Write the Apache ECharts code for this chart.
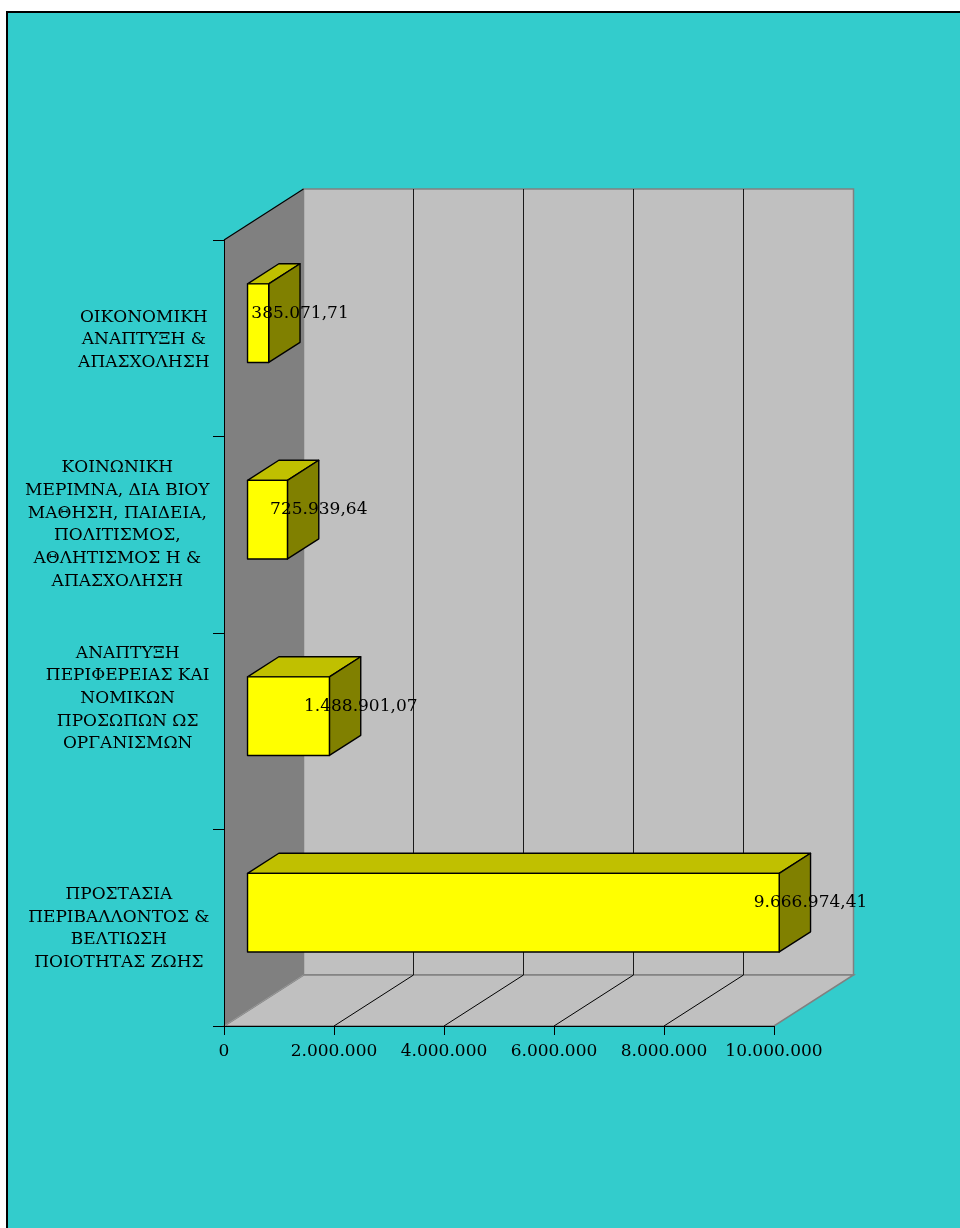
<!DOCTYPE html>
<html><head><meta charset="utf-8">
<script src="https://cdn.jsdelivr.net/npm/echarts@6/dist/echarts.min.js"></script>
<style>html,body{margin:0;padding:0;background:#fff}#c{width:960px;height:1228px}</style>
</head><body><div id="c"></div>
<script>
// ---- data ----
const categories = [
  'ΟΙΚΟΝΟΜΙΚΗ\nΑΝΑΠΤΥΞΗ &\nΑΠΑΣΧΟΛΗΣΗ',
  'ΚΟΙΝΩΝΙΚΗ\nΜΕΡΙΜΝΑ, ΔΙΑ ΒΙΟΥ\nΜΑΘΗΣΗ, ΠΑΙΔΕΙΑ,\nΠΟΛΙΤΙΣΜΟΣ,\nΑΘΛΗΤΙΣΜΟΣ Η &\nΑΠΑΣΧΟΛΗΣΗ',
  'ΑΝΑΠΤΥΞΗ\nΠΕΡΙΦΕΡΕΙΑΣ ΚΑΙ\nΝΟΜΙΚΩΝ\nΠΡΟΣΩΠΩΝ ΩΣ\nΟΡΓΑΝΙΣΜΩΝ',
  'ΠΡΟΣΤΑΣΙΑ\nΠΕΡΙΒΑΛΛΟΝΤΟΣ &\nΒΕΛΤΙΩΣΗ\nΠΟΙΟΤΗΤΑΣ ΖΩΗΣ'
];
const values = [385071.71, 725939.64, 1488901.07, 9666974.41];
const valueLabels = ['385.071,71', '725.939,64', '1.488.901,07', '9.666.974,41'];
const xTicks = [0, 2000000, 4000000, 6000000, 8000000, 10000000];
const xTickLabels = ['0', '2.000.000', '4.000.000', '6.000.000', '8.000.000', '10.000.000'];

// ---- style ----
const FONT = 'DejaVu Serif';
const DEPTH = [79.5, -51];
const TF = 0.296, TB = 0.69;
const labelShift = [1.7, -10.3, -32.6, 0.8];

function renderFrame(params, api) {
  const cs = params.coordSys;
  const x0 = cs.x, y0 = cs.y, w = cs.width, h = cs.height;
  const dx = DEPTH[0], dy = DEPTH[1];
  const ch = [];
  ch.push({type: 'polygon', shape: {points: [[x0, y0], [x0 + dx, y0 + dy], [x0 + dx, y0 + h + dy], [x0, y0 + h]]},
    style: {fill: '#808080', stroke: null}});
  ch.push({type: 'rect', shape: {x: x0 + dx, y: y0 + dy, width: w, height: h},
    style: {fill: '#C0C0C0', stroke: '#808080', lineWidth: 1.5}});
  ch.push({type: 'polygon', shape: {points: [[x0, y0 + h], [x0 + w, y0 + h], [x0 + w + dx, y0 + h + dy], [x0 + dx, y0 + h + dy]]},
    style: {fill: '#C0C0C0', stroke: '#808080', lineWidth: 1.5}});
  xTicks.forEach((t, i) => {
    const p = api.coord([t, 0]);
    if (i > 0 && i < xTicks.length - 1) {
      ch.push({type: 'line', shape: {x1: p[0] + dx, y1: y0 + dy, x2: p[0] + dx, y2: y0 + h + dy},
        style: {stroke: '#1a1a1a', lineWidth: 1}});
      ch.push({type: 'line', shape: {x1: p[0], y1: y0 + h, x2: p[0] + dx, y2: y0 + h + dy},
        style: {stroke: '#000', lineWidth: 1}});
    }
  });
  ch.push({type: 'line', shape: {x1: x0, y1: y0 + h, x2: x0 + dx, y2: y0 + h + dy}, style: {stroke: '#999', lineWidth: 1}});
  ch.push({type: 'line', shape: {x1: x0, y1: y0, x2: x0 + dx, y2: y0 + dy}, style: {stroke: '#000', lineWidth: 1.2}});
  return {type: 'group', children: ch};
}

function renderBar(params, api) {
  const val = api.value(0), cat = api.value(1);
  const p0 = api.coord([0, cat]);
  const p1 = api.coord([val, cat]);
  const bh = api.size([0, 1])[1] * 0.4;
  const dx = DEPTH[0], dy = DEPTH[1];
  const fx0 = p0[0] + TF * dx, fx1 = p1[0] + TF * dx;
  const fy = p0[1] + TF * dy;
  const top = fy - bh / 2, bot = fy + bh / 2;
  const bx = (TB - TF) * dx, by = (TB - TF) * dy;
  const border = {stroke: '#000', lineWidth: 1.4, lineJoin: 'round'};
  return {type: 'group', children: [
    {type: 'polygon', shape: {points: [[fx0, top], [fx1, top], [fx1 + bx, top + by], [fx0 + bx, top + by]]},
      style: Object.assign({fill: '#C0C000'}, border)},
    {type: 'polygon', shape: {points: [[fx1, top], [fx1 + bx, top + by], [fx1 + bx, bot + by], [fx1, bot]]},
      style: Object.assign({fill: '#808000'}, border)},
    {type: 'rect', shape: {x: fx0, y: top, width: fx1 - fx0, height: bh},
      style: Object.assign({fill: '#FFFF00'}, border)},
    {type: 'text', x: fx1 + bx, y: fy + by / 2, z2: 10,
      style: {text: valueLabels[params.dataIndex], fill: '#000', font: '17px "' + FONT + '"',
        align: 'center', verticalAlign: 'middle'}}
  ]};
}

const chart = echarts.init(document.getElementById('c'), null, {renderer: 'canvas'});
chart.setOption({
  backgroundColor: '#ffffff',
  animation: false,
  graphic: [{type: 'rect', z: -10, shape: {x: 7, y: 12, width: 1000, height: 1300},
    style: {fill: '#33CCCC', stroke: '#000', lineWidth: 2}}],
  grid: {left: 224, right: 186, top: 240, bottom: 202, containLabel: false},
  xAxis: {
    type: 'value', min: 0, max: 10000000, interval: 2000000,
    axisLine: {show: true, lineStyle: {color: '#000', width: 1}},
    axisTick: {show: true, length: 9, inside: false, lineStyle: {color: '#000'}},
    splitLine: {show: false},
    axisLabel: {margin: 17, color: '#000', fontFamily: FONT, fontSize: 17, hideOverlap: false,
      showMinLabel: true, showMaxLabel: true,
      formatter: v => { const i = xTicks.indexOf(v); return i >= 0 ? xTickLabels[i] : ''; }}
  },
  yAxis: {
    type: 'category', inverse: true,
    data: categories.map((c, i) => {
      const s = labelShift[i];
      return {value: c, textStyle: {padding: s < 0 ? [0, 0, -2 * s, 0] : [2 * s, 0, 0, 0]}};
    }),
    axisLine: {show: true, lineStyle: {color: '#000', width: 1}},
    axisTick: {show: true, length: 11, inside: false, alignWithLabel: false, lineStyle: {color: '#000'}},
    splitLine: {show: false},
    axisLabel: {margin: 14.5, color: '#000', fontFamily: FONT, fontSize: 17, interval: 0,
      formatter: v => v.split('\n').map(l => '{c|' + l + '}').join('\n'),
      rich: {c: {align: 'center', fontFamily: FONT, fontSize: 17, lineHeight: 22.7, color: '#000'}}}
  },
  series: [
    {type: 'custom', z: -5, renderItem: renderFrame, data: [[0, 0]], silent: true, clip: false},
    {type: 'custom', z: 3, renderItem: renderBar, clip: false,
      data: values.map((v, i) => [v, i]), encode: {x: 0, y: 1}}
  ]
});
</script></body></html>
